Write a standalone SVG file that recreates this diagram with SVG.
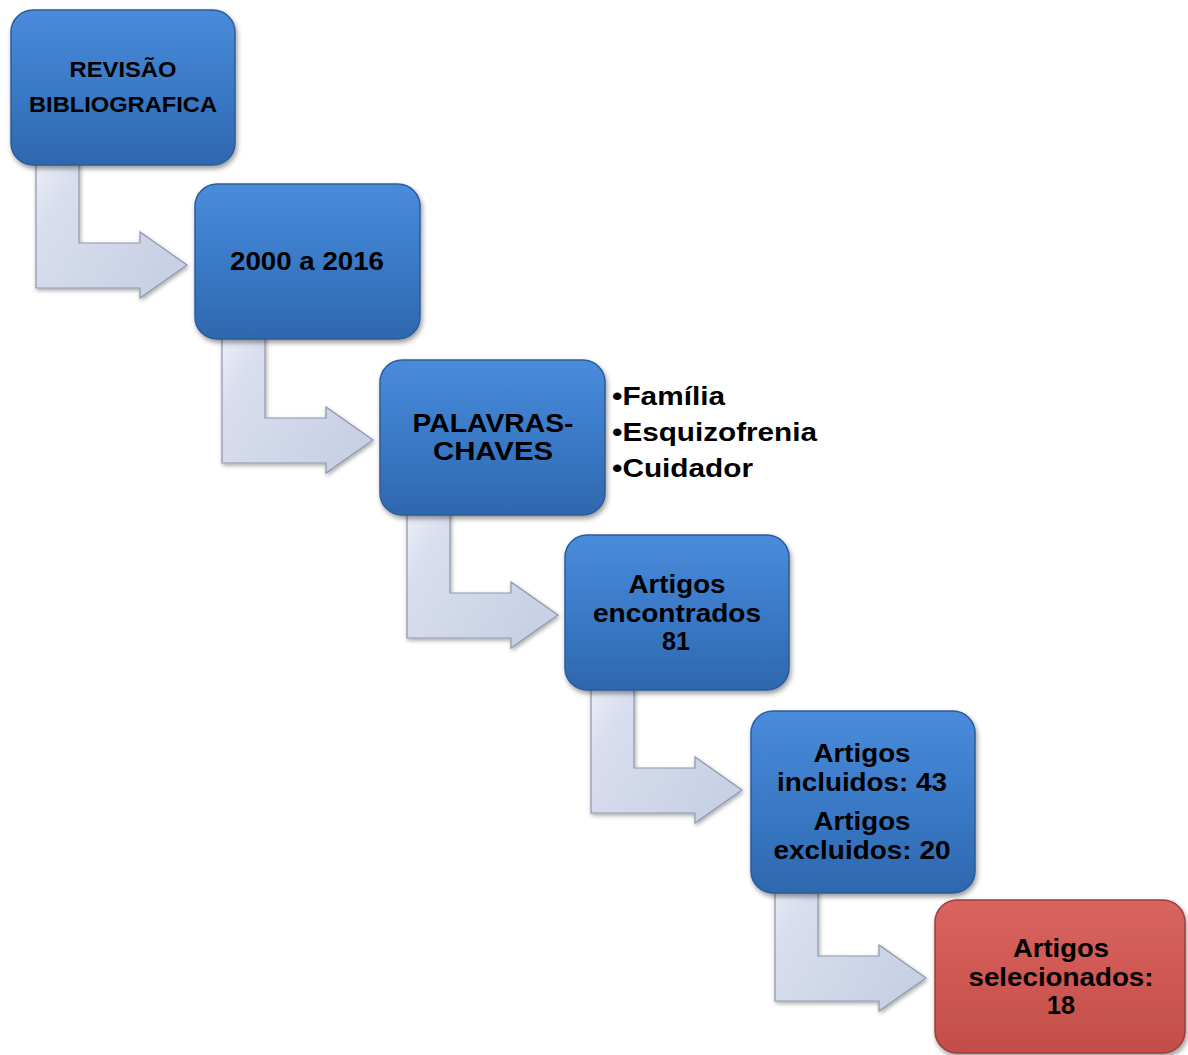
<svg xmlns="http://www.w3.org/2000/svg" width="1188" height="1055" viewBox="0 0 1188 1055">
<defs>
<linearGradient id="gBlue" x1="0" y1="0" x2="0" y2="1">
<stop offset="0" stop-color="#4a8bdb"/>
<stop offset="0.5" stop-color="#3a7ac7"/>
<stop offset="1" stop-color="#2e67ae"/>
</linearGradient>
<linearGradient id="gRed" x1="0" y1="0" x2="0" y2="1">
<stop offset="0" stop-color="#d9645f"/>
<stop offset="0.5" stop-color="#cf5853"/>
<stop offset="1" stop-color="#c24d49"/>
</linearGradient>
<linearGradient id="gArrow" x1="0" y1="0" x2="1" y2="0.6">
<stop offset="0" stop-color="#edf0f8"/>
<stop offset="0.25" stop-color="#d8deee"/>
<stop offset="1" stop-color="#c8d0e4"/>
</linearGradient>
<filter id="shadow" x="-10%" y="-10%" width="130%" height="130%">
<feDropShadow dx="1.5" dy="3" stdDeviation="2.5" flood-color="#000" flood-opacity="0.4"/>
</filter>
<filter id="ashadow" x="-10%" y="-10%" width="130%" height="130%">
<feDropShadow dx="1" dy="2" stdDeviation="2" flood-color="#000" flood-opacity="0.35"/>
</filter>
<path id="arrow" d="M0,-10 L43,-10 L43,78 L104,78 L104,67 L151,100 L104,133 L104,123 L0,123 Z"/>
</defs>
<style>
.box{fill:url(#gBlue);stroke:#2b5c98;stroke-width:1.5;filter:url(#shadow)}
.red{fill:url(#gRed);stroke:#9c3d3a;stroke-width:1.5;filter:url(#shadow)}
.arr{fill:url(#gArrow);stroke:#8e97ad;stroke-width:1.2;filter:url(#ashadow)}
text{font-family:"Liberation Sans",Arial,sans-serif;font-weight:bold;fill:#000}
.c{text-anchor:middle;font-size:26.5px}
.s{text-anchor:middle;font-size:22px}
.b{font-size:26.5px}
</style>
<g id="connectors">
<use href="#arrow" class="arr" transform="translate(36,165)"/>
<use href="#arrow" class="arr" transform="translate(222,340)"/>
<use href="#arrow" class="arr" transform="translate(407,515)"/>
<use href="#arrow" class="arr" transform="translate(591,690)"/>
<use href="#arrow" class="arr" transform="translate(775,878)"/>
</g>
<g id="n1">
<rect class="box" x="11" y="10" width="224" height="155" rx="22"/>
<text class="s" x="123" y="77" textLength="107" lengthAdjust="spacingAndGlyphs">REVISÃO</text>
<text class="s" x="123" y="112" textLength="188" lengthAdjust="spacingAndGlyphs">BIBLIOGRAFICA</text>
</g>
<g id="n2">
<rect class="box" x="195" y="184" width="225" height="155" rx="22"/>
<text class="c" x="307" y="270" textLength="154" lengthAdjust="spacingAndGlyphs">2000 a 2016</text>
</g>
<g id="n3">
<rect class="box" x="380" y="360" width="225" height="155" rx="22"/>
<text class="c" x="493" y="432" textLength="161" lengthAdjust="spacingAndGlyphs">PALAVRAS-</text>
<text class="c" x="493" y="460" textLength="120" lengthAdjust="spacingAndGlyphs">CHAVES</text>
</g>
<g id="n3-list">
<text class="b" x="612" y="405" textLength="113" lengthAdjust="spacingAndGlyphs">•Família</text>
<text class="b" x="612" y="441" textLength="205" lengthAdjust="spacingAndGlyphs">•Esquizofrenia</text>
<text class="b" x="612" y="477" textLength="141" lengthAdjust="spacingAndGlyphs">•Cuidador</text>
</g>
<g id="n4">
<rect class="box" x="565" y="535" width="224" height="155" rx="22"/>
<text class="c" x="677" y="593" textLength="97" lengthAdjust="spacingAndGlyphs">Artigos</text>
<text class="c" x="677" y="622" textLength="168" lengthAdjust="spacingAndGlyphs">encontrados</text>
<text class="c" x="676" y="650" textLength="28" lengthAdjust="spacingAndGlyphs">81</text>
</g>
<g id="n5">
<rect class="box" x="751" y="711" width="224" height="182" rx="22"/>
<text class="c" x="862" y="762" textLength="97" lengthAdjust="spacingAndGlyphs">Artigos</text>
<text class="c" x="862" y="791" textLength="170" lengthAdjust="spacingAndGlyphs">incluidos: 43</text>
<text class="c" x="862" y="830" textLength="97" lengthAdjust="spacingAndGlyphs">Artigos</text>
<text class="c" x="862" y="859" textLength="177" lengthAdjust="spacingAndGlyphs">excluidos: 20</text>
</g>
<g id="n6">
<rect class="red" x="935" y="900" width="250" height="153" rx="22"/>
<text class="c" x="1061" y="957" textLength="96" lengthAdjust="spacingAndGlyphs">Artigos</text>
<text class="c" x="1061" y="986" textLength="185" lengthAdjust="spacingAndGlyphs">selecionados:</text>
<text class="c" x="1061" y="1014" textLength="28" lengthAdjust="spacingAndGlyphs">18</text>
</g>
</svg>
